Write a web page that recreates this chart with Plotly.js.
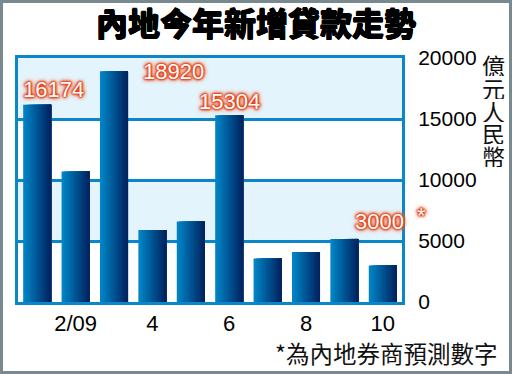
<!DOCTYPE html>
<html>
<head>
<meta charset="utf-8">
<script src="https://cdn.plot.ly/plotly-3.0.1.min.js"></script>
<style>
  html, body { margin: 0; padding: 0; background: #fff; }
  #frame { position: absolute; left: 0; top: 0; width: 512px; height: 374px; box-sizing: border-box; border: 3px solid #788a90; background: #fff; }
  #chart { width: 506px; height: 368px; }
</style>
</head>
<body>
<div id="frame"><div id="chart"></div></div>
<script>
// ---- data ----
const titleText = '內地今年新增貸款走勢';
const months = [1, 2, 3, 4, 5, 6, 7, 8, 9, 10];
const loans = [16174, 10700, 18920, 5900, 6600, 15304, 3560, 4100, 5170, 3000];
const xTickVals = [2, 4, 6, 8, 10];
const xTickText = ['2/09', '4', '6', '8', '10'];
const yTickVals = [0, 5000, 10000, 15000, 20000];
const yTickText = ['0', '5000', '10000', '15000', '20000'];
const unitChars = ['億', '元', '人', '民', '幣'];
const labelledIdx = [0, 2, 5, 9];
const labelTexts = ['16174', '18920', '15304', '3000'];
const forecastMark = '*';
const footnote = '*為內地券商預測數字';

// ---- styling ----
const BLUE = '#0b86c9';
const BAND = '#e4f4fd';
const barW = 0.73;
const nSlices = 12;
const cL = [0, 132, 198], cR = [2, 36, 96];
function mix(t) {
  const c = cL.map((v, k) => Math.round(v + (cR[k] - v) * t));
  return 'rgb(' + c.join(',') + ')';
}

const traces = [];
for (let i = 0; i < nSlices; i++) {
  const off = -barW / 2 + i * barW / nSlices;
  traces.push({
    type: 'bar', x: months, y: loans,
    width: barW / 2 - off, offset: off,
    marker: { color: mix(i / (nSlices - 1)), line: { width: 0 } },
    hoverinfo: 'skip', showlegend: false
  });
}

const shapes = [];
for (let i = 1; i < yTickVals.length; i += 2) {
  shapes.push({ type: 'rect', xref: 'paper', x0: 0, x1: 1, yref: 'y',
    y0: yTickVals[i], y1: yTickVals[i + 1], fillcolor: BAND, line: { width: 0 }, layer: 'below' });
}

const R = '#e33810';
const glow = '0 0 1px ' + R + ', 0 0 2px ' + R + ', 0 0 2px ' + R + ', 0 0 3px ' + R +
  ', 0 0 3px ' + R + ', 0 0 4px #ee5a28, 0 0 5px #f48a60, 0 0 6px #f8b090';
const labelFont = { family: 'Liberation Sans, Arial, sans-serif', size: 22, color: '#ffffff', shadow: glow };
const labelShift = [[16, 15], [59, 0], [0, 14], [-3, 44]];
const annotations = labelledIdx.map((idx, k) => ({
  x: months[idx], y: loans[idx], xref: 'x', yref: 'y', text: labelTexts[k],
  showarrow: false, xanchor: 'center', yanchor: 'middle',
  xshift: labelShift[k][0], yshift: labelShift[k][1], font: labelFont
}));
const lastIdx = labelledIdx[labelledIdx.length - 1];
annotations.push({
  x: months[lastIdx], y: loans[lastIdx], xref: 'x', yref: 'y', text: forecastMark,
  showarrow: false, xanchor: 'center', yanchor: 'middle', xshift: 39, yshift: 50,
  font: { family: 'Liberation Sans, Arial, sans-serif', size: 22, color: '#ffffff', shadow: glow }
});
unitChars.forEach((ch, i) => {
  annotations.push({
    xref: 'paper', yref: 'paper', x: 1, y: 1, text: ch, showarrow: false,
    xanchor: 'center', yanchor: 'middle', xshift: 91, yshift: -(7 + 22.75 * i),
    height: 22, width: 25, valign: 'middle',
    font: { family: 'Noto Sans CJK TC, sans-serif', size: 23, color: '#111' }
  });
});
annotations.push({
  xref: 'paper', yref: 'paper', x: 1, y: 0, text: footnote, showarrow: false,
  xanchor: 'right', yanchor: 'middle', xshift: 97, yshift: -51,
  font: { family: 'Noto Sans CJK TC, sans-serif', size: 23.5, color: '#111' }
});

const layout = {
  width: 506, height: 368,
  margin: { l: 15, r: 107, t: 55, b: 69, pad: 0 },
  paper_bgcolor: '#ffffff', plot_bgcolor: '#ffffff',
  barmode: 'overlay',
  title: {
    text: titleText, x: 0.5, xref: 'container', xanchor: 'center',
    y: 1 - 21.5 / 368, yref: 'container', yanchor: 'middle',
    font: { family: 'Noto Sans CJK TC, sans-serif', size: 32, weight: 900, color: '#000',
      shadow: '0.6px 0 0 #000, -0.6px 0 0 #000, 0 0.6px 0 #000, 0 -0.6px 0 #000' }
  },
  xaxis: {
    range: [0.5, 10.5], tickvals: xTickVals, ticktext: xTickText,
    showgrid: false, zeroline: false, showline: true, mirror: true,
    linecolor: BLUE, linewidth: 3, ticks: '', ticklabelstandoff: 0,
    tickfont: { family: 'Liberation Sans, Arial, sans-serif', size: 22, color: '#000' }
  },
  yaxis: {
    range: [0, 20000], side: 'right', tickvals: yTickVals, ticktext: yTickText,
    showgrid: true, gridcolor: BLUE, gridwidth: 3, zeroline: false,
    showline: true, mirror: true, linecolor: BLUE, linewidth: 3,
    ticks: '', ticklabelstandoff: 9,
    tickfont: { family: 'Liberation Sans, Arial, sans-serif', size: 21, color: '#000' }
  },
  shapes: shapes,
  annotations: annotations
};

Plotly.newPlot('chart', traces, layout, { staticPlot: true, displayModeBar: false });
</script>
</body>
</html>
